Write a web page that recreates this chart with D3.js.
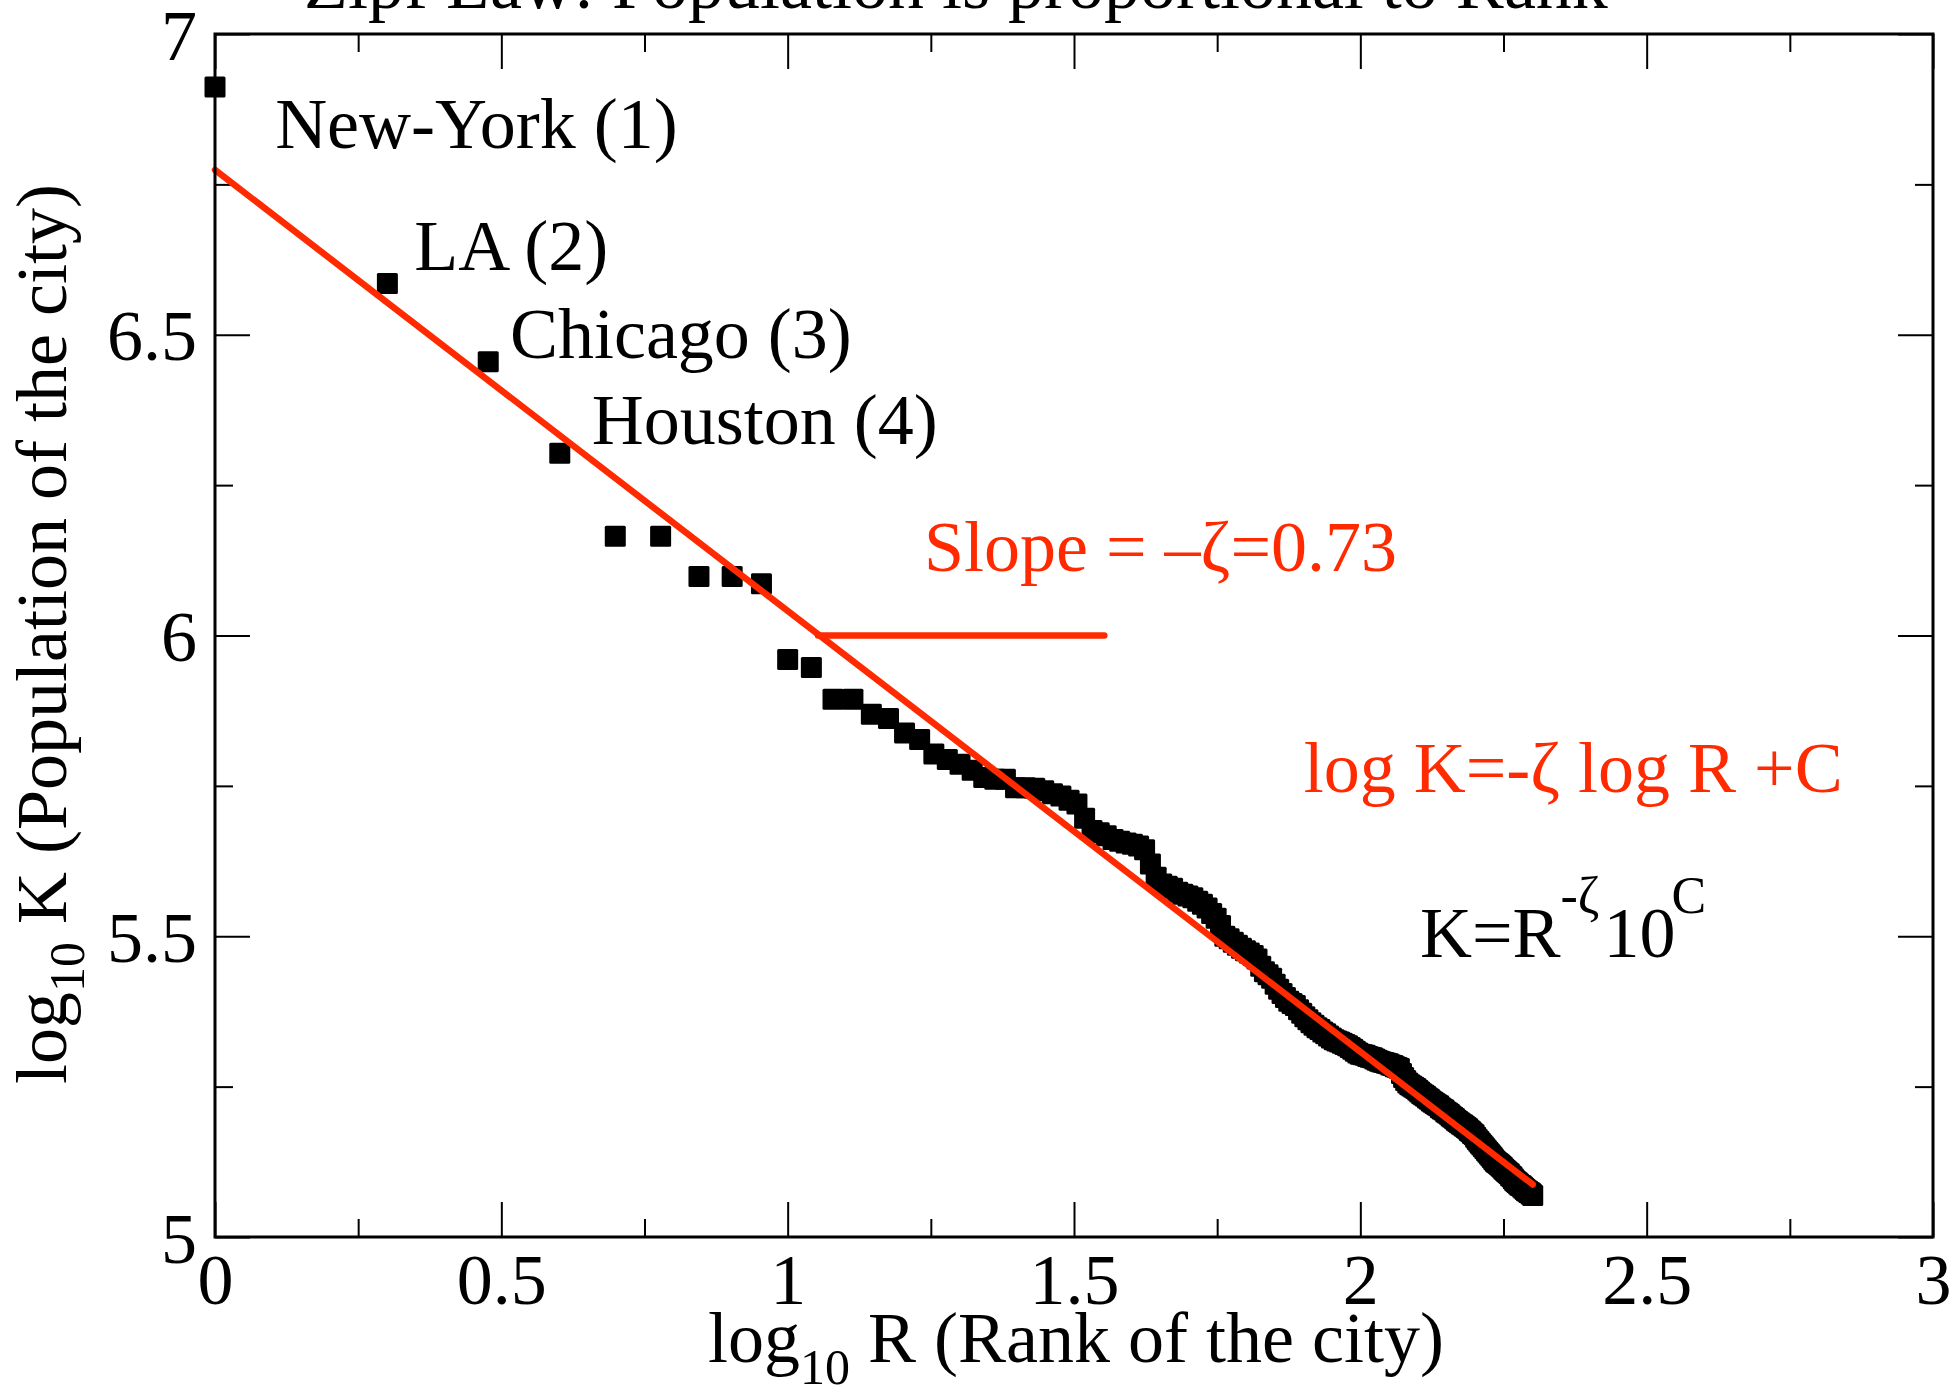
<!DOCTYPE html>
<html>
<head>
<meta charset="utf-8">
<script src="https://cdn.jsdelivr.net/npm/d3@7"></script>
<style>
  html, body { margin: 0; padding: 0; background: #fff; }
  svg { display: block; }
  text { font-family: "Liberation Serif", "Times New Roman", serif; }
</style>
</head>
<body>
<svg id="chart" width="1950" height="1400"></svg>
<script>
// ---------------- DATA ----------------
const titleText = "Zipf Law: Population is proportional to Rank";
const xTickValues = [0, 0.5, 1, 1.5, 2, 2.5, 3];
const xTickLabels = ["0", "0.5", "1", "1.5", "2", "2.5", "3"];
const xMinorTicks = [0.25, 0.75, 1.25, 1.75, 2.25, 2.75];
const yTickValues = [5, 5.5, 6, 6.5, 7];
const yTickLabels = ["5", "5.5", "6", "6.5", "7"];
const yMinorTicks = [5.25, 5.75, 6.25, 6.75];

// log10 of the population of the city of rank R = 1..200
const logPopulation = [
  6.912, 6.585, 6.455, 6.303, 6.165, 6.165, 6.098, 6.098, 6.086, 5.960,
  5.947, 5.894, 5.894, 5.869, 5.862, 5.838, 5.827, 5.803, 5.794, 5.786,
  5.776, 5.764, 5.761, 5.761, 5.747, 5.747, 5.746, 5.742, 5.737, 5.733,
  5.726, 5.720, 5.696, 5.676, 5.672, 5.667, 5.661, 5.658, 5.655, 5.653,
  5.650, 5.644, 5.620, 5.598, 5.587, 5.583, 5.580, 5.573, 5.570, 5.567,
  5.564, 5.558, 5.553, 5.547, 5.538, 5.530, 5.518, 5.500, 5.496, 5.490,
  5.485, 5.480, 5.476, 5.472, 5.468, 5.462, 5.450, 5.441, 5.436, 5.430,
  5.420, 5.412, 5.405, 5.398, 5.392, 5.388, 5.385, 5.378, 5.372, 5.366,
  5.361, 5.356, 5.352, 5.348, 5.345, 5.341, 5.338, 5.334, 5.331, 5.328,
  5.326, 5.324, 5.322, 5.320, 5.318, 5.315, 5.312, 5.309, 5.306, 5.304,
  5.303, 5.302, 5.300, 5.299, 5.298, 5.296, 5.294, 5.292, 5.291, 5.290,
  5.289, 5.288, 5.286, 5.285, 5.283, 5.282, 5.280, 5.272, 5.265, 5.260,
  5.256, 5.253, 5.251, 5.249, 5.247, 5.244, 5.241, 5.238, 5.236, 5.234,
  5.231, 5.229, 5.226, 5.224, 5.222, 5.220, 5.218, 5.215, 5.213, 5.211,
  5.208, 5.206, 5.204, 5.201, 5.199, 5.197, 5.194, 5.192, 5.190, 5.188,
  5.186, 5.184, 5.182, 5.180, 5.177, 5.175, 5.172, 5.170, 5.166, 5.162,
  5.159, 5.156, 5.153, 5.150, 5.147, 5.144, 5.141, 5.138, 5.135, 5.132,
  5.129, 5.126, 5.124, 5.122, 5.120, 5.118, 5.116, 5.113, 5.111, 5.109,
  5.107, 5.105, 5.102, 5.100, 5.097, 5.094, 5.092, 5.090, 5.088, 5.086,
  5.085, 5.083, 5.081, 5.079, 5.077, 5.076, 5.074, 5.073, 5.071, 5.069
];
const ranks = d3.range(1, logPopulation.length + 1);

// fitted line log K = -zeta log R + C
const fitIntercept = 6.774;
const fitSlope = -0.733;
const fitXRange = [0, 2.301];
// horizontal reference segment of the slope annotation
const slopeRefX = [1.053, 1.553];
const slopeRefY = 6.0;

const cityLabels = [
  { text: "New-York (1)", x: 0.105, y: 6.810 },
  { text: "LA (2)", x: 0.348, y: 6.607 },
  { text: "Chicago (3)", x: 0.515, y: 6.461 },
  { text: "Houston (4)", x: 0.658, y: 6.318 }
];

// ---------------- LAYOUT ----------------
const RED = "#ff2a00";
const FS = 72;
const svg = d3.select("#chart");
svg.append("rect").attr("width", 1950).attr("height", 1400).attr("fill", "#fff");

const x = d3.scaleLinear().domain([0, 3]).range([215, 1933]);
const y = d3.scaleLinear().domain([5, 7]).range([1237, 34]);

// title (partially cut by top edge)
svg.append("text").attr("x", 304).attr("y", 8)
  .attr("font-size", FS).attr("fill", "#000").text(titleText);

// ---------------- TICKS ----------------
function styleAxis(g) {
  g.select(".domain").remove();
  g.selectAll(".tick line").attr("stroke", "#000").attr("stroke-width", 2);
}
// bottom
svg.append("g").attr("transform", `translate(0,${y(5)})`)
  .call(d3.axisBottom(x).tickValues(xTickValues).tickSize(-35)
        .tickFormat((d, i) => xTickLabels[i]))
  .call(styleAxis)
  .call(g => g.selectAll(".tick text").attr("y", 67).attr("dy", null)
        .attr("font-size", FS).attr("fill", "#000")
        .attr("font-family", "Liberation Serif, serif"));
svg.append("g").attr("transform", `translate(0,${y(5)})`)
  .call(d3.axisBottom(x).tickValues(xMinorTicks).tickSize(-18).tickFormat(""))
  .call(styleAxis);
// top
svg.append("g").attr("transform", `translate(0,${y(7)})`)
  .call(d3.axisTop(x).tickValues(xTickValues).tickSize(-35).tickFormat(""))
  .call(styleAxis);
svg.append("g").attr("transform", `translate(0,${y(7)})`)
  .call(d3.axisTop(x).tickValues(xMinorTicks).tickSize(-18).tickFormat(""))
  .call(styleAxis);
// left
svg.append("g").attr("transform", `translate(${x(0)},0)`)
  .call(d3.axisLeft(y).tickValues(yTickValues).tickSize(-35)
        .tickFormat((d, i) => yTickLabels[i]))
  .call(styleAxis)
  .call(g => g.selectAll(".tick text").attr("x", -18).attr("dy", null).attr("y", 25)
        .attr("font-size", FS).attr("fill", "#000")
        .attr("font-family", "Liberation Serif, serif"));
svg.append("g").attr("transform", `translate(${x(0)},0)`)
  .call(d3.axisLeft(y).tickValues(yMinorTicks).tickSize(-18).tickFormat(""))
  .call(styleAxis);
// right
svg.append("g").attr("transform", `translate(${x(3)},0)`)
  .call(d3.axisRight(y).tickValues(yTickValues).tickSize(-35).tickFormat(""))
  .call(styleAxis);
svg.append("g").attr("transform", `translate(${x(3)},0)`)
  .call(d3.axisRight(y).tickValues(yMinorTicks).tickSize(-18).tickFormat(""))
  .call(styleAxis);

// ---------------- DATA MARKS ----------------
const M = 21;
svg.append("g").selectAll("rect.pt")
  .data(ranks.map((r, i) => ({ lx: Math.log10(r), ly: logPopulation[i] })))
  .join("rect").attr("class", "pt")
  .attr("x", d => x(d.lx) - M / 2).attr("y", d => y(d.ly) - M / 2)
  .attr("width", M).attr("height", M).attr("rx", 1.5)
  .attr("fill", "#000");

// fit line
const line = d3.line().x(d => x(d[0])).y(d => y(d[1]));
svg.append("path")
  .attr("d", line(fitXRange.map(v => [v, fitIntercept + fitSlope * v])))
  .attr("stroke", RED).attr("stroke-width", 6.5).attr("fill", "none")
  .attr("stroke-linecap", "round");
svg.append("path")
  .attr("d", line(slopeRefX.map(v => [v, slopeRefY])))
  .attr("stroke", RED).attr("stroke-width", 6.5).attr("fill", "none")
  .attr("stroke-linecap", "round");

// frame
svg.append("rect")
  .attr("x", x(0)).attr("y", y(7))
  .attr("width", x(3) - x(0)).attr("height", y(5) - y(7))
  .attr("fill", "none").attr("stroke", "#000").attr("stroke-width", 3);

// ---------------- ANNOTATIONS ----------------
svg.append("g").selectAll("text")
  .data(cityLabels).join("text")
  .attr("x", d => x(d.x)).attr("y", d => y(d.y))
  .attr("font-size", FS).attr("fill", "#000").text(d => d.text);

svg.append("text").attr("x", x(1.238)).attr("y", y(6.108))
  .attr("font-size", FS).attr("fill", RED).text("Slope = \u2013\u03B6=0.73");

svg.append("text").attr("x", x(1.901)).attr("y", y(5.739))
  .attr("font-size", FS).attr("fill", RED).text("log K=-\u03B6 log R +C");

const kf = svg.append("text").attr("x", x(2.104)).attr("y", y(5.465))
  .attr("font-size", FS).attr("fill", "#000");
kf.append("tspan").text("K=R");
kf.append("tspan").attr("font-size", 52).attr("dy", -44).text("-\u03B6");
kf.append("tspan").attr("dy", 44).attr("dx", 4).text("10");
kf.append("tspan").attr("font-size", 52).attr("dy", -44).attr("dx", -4).text("C");

// axis labels
const xl = svg.append("text").attr("x", x(1.5) + 2).attr("y", 1362)
  .attr("text-anchor", "middle").attr("font-size", FS).attr("fill", "#000");
xl.append("tspan").text("log");
xl.append("tspan").attr("font-size", 50).attr("dy", 22).text("10");
xl.append("tspan").attr("dy", -22).text(" R (Rank of the city)");

const yl = svg.append("text")
  .attr("transform", `translate(66,${634}) rotate(-90)`)
  .attr("text-anchor", "middle").attr("font-size", FS).attr("fill", "#000");
yl.append("tspan").text("log");
yl.append("tspan").attr("font-size", 50).attr("dy", 18).text("10");
yl.append("tspan").attr("dy", -18).text(" K (Population of the city)");
</script>
</body>
</html>
